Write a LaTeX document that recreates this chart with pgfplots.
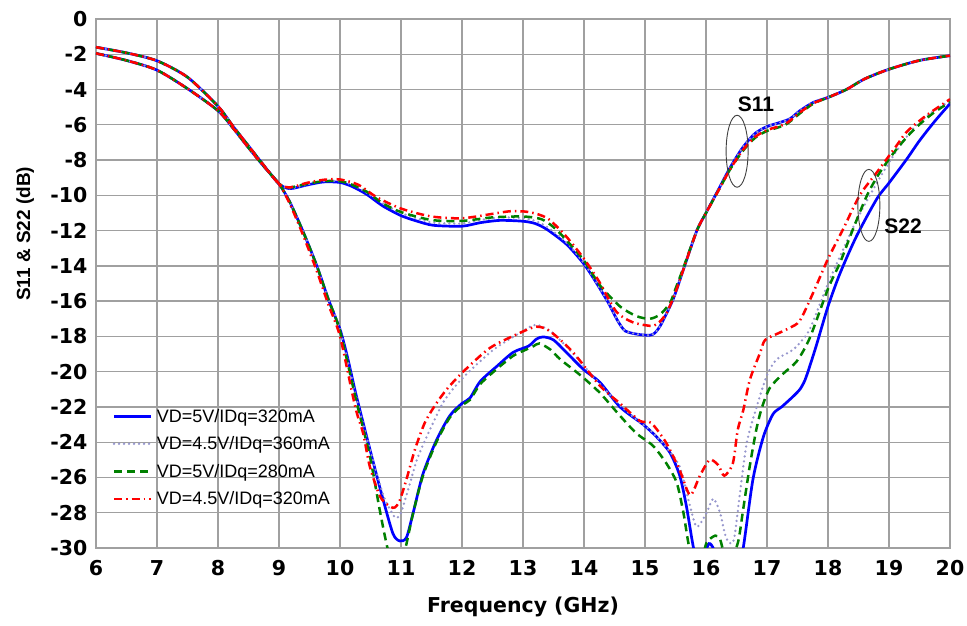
\documentclass[border=0pt]{standalone}
\usepackage{fontspec}
\setmainfont{Liberation Sans}
\newfontfamily\tickfont{DejaVu Sans}
\usepackage{pgfplots}
\pgfplotsset{compat=1.18}
\definecolor{cblue}{RGB}{0,0,255}
\definecolor{cpurp}{RGB}{150,150,205}
\definecolor{cgreen}{RGB}{0,128,0}
\definecolor{cred}{RGB}{255,0,0}
\definecolor{cgrid}{RGB}{160,160,160}
\begin{document}
\begin{tikzpicture}
\path[use as bounding box] (-96pt,-78pt) rectangle (871pt,548pt);
\begin{axis}[
  at={(0,0)}, anchor=south west,
  scale only axis, width=854pt, height=529pt,
  xmin=6, xmax=20, ymin=-30, ymax=0,
  xtick={6,7,...,20}, ytick={-30,-28,...,0},
  grid=major, grid style={line width=1.3pt, color=cgrid},
  axis line style={line width=1.3pt, color=cgrid},
  major tick length=0pt,
  /pgf/number format/assume math mode=true,
  tick label style={font=\tickfont\fontsize{20.5}{22}\selectfont\bfseries},
  xticklabel style={yshift=-9pt},
  yticklabel style={xshift=-5pt},
  xlabel={Frequency (GHz)}, ylabel={S11 \& S22 (dB)},
  xlabel style={font=\tickfont\fontsize{20.5}{22}\selectfont\bfseries, at={(axis description cs:0.5,-0.1115)}, anchor=center},
  ylabel style={font=\fontsize{19}{20}\selectfont\bfseries, at={(axis description cs:-0.083,0.594)}, anchor=center},
  legend style={at={(axis cs:6.27,-21.85)}, anchor=north west, draw=none, fill=none,
    font=\fontsize{18}{20}\selectfont, inner sep=0pt, row sep=4pt,
    nodes={inner sep=4.5pt}},
  legend cell align=left,
  legend image code/.code={\draw[#1] plot coordinates {(0pt,0pt) (18pt,0pt) (37pt,0pt)};},
  every axis plot/.append style={smooth, tension=0.45},
]
% ---------- VD=5V/IDq=320mA (blue solid)
\addplot[cblue, line width=2.7pt] coordinates {
(6,-1.6)(6.5,-1.92)(7,-2.37)(7.5,-3.3)(8,-4.95)(8.25,-6.1)(8.5,-7.2)(8.75,-8.3)(9,-9.35)(9.18,-9.62)(9.45,-9.42)(9.73,-9.24)(10,-9.27)(10.2,-9.5)(10.44,-9.95)(10.7,-10.6)(11,-11.15)(11.25,-11.45)(11.53,-11.7)(12,-11.75)(12.3,-11.55)(12.62,-11.42)(13,-11.47)(13.2,-11.6)(13.4,-11.95)(13.72,-12.8)(14,-13.9)(14.2,-14.95)(14.4,-16.1)(14.55,-17.1)(14.68,-17.7)(14.92,-17.9)(15.12,-17.9)(15.25,-17.4)(15.46,-15.9)(15.62,-14.3)(15.85,-12.0)(16,-11.0)(16.2,-9.7)(16.4,-8.4)(16.6,-7.3)(16.8,-6.5)(17,-6.1)(17.21,-5.87)(17.38,-5.65)(17.54,-5.2)(17.76,-4.73)(18,-4.45)(18.3,-4.0)(18.6,-3.4)(19,-2.85)(19.5,-2.35)(20,-2.08)};
\addlegendentry{VD=5V/IDq=320mA}
\addplot[cblue, line width=2.7pt, forget plot] coordinates {
(6,-1.95)(6.5,-2.35)(7,-2.9)(7.5,-3.95)(8,-5.2)(8.25,-6.2)(8.5,-7.3)(8.75,-8.35)(9,-9.35)(9.18,-10.4)(9.4,-12.1)(9.62,-14.0)(9.81,-15.9)(10,-17.6)(10.11,-19.0)(10.19,-20.2)(10.27,-21.4)(10.49,-24.4)(10.71,-27.3)(10.87,-29.2)(10.98,-29.6)(11.09,-29.4)(11.2,-28.0)(11.36,-25.8)(11.58,-23.9)(11.8,-22.5)(12,-21.8)(12.13,-21.5)(12.3,-20.55)(12.57,-19.7)(12.84,-18.9)(13.09,-18.55)(13.22,-18.15)(13.33,-18.03)(13.5,-18.2)(13.72,-18.94)(14,-19.9)(14.26,-20.6)(14.59,-22.0)(14.97,-23.0)(15.19,-23.7)(15.41,-24.6)(15.57,-25.9)(15.68,-27.65)(15.79,-29.9)(15.88,-31)(15.97,-30.4)(16.05,-29.75)(16.13,-30.1)(16.25,-31.5)(16.5,-31.5)(16.61,-30.0)(16.77,-26.1)(16.94,-23.7)(17.1,-22.4)(17.24,-22.0)(17.43,-21.4)(17.54,-21.0)(17.62,-20.5)(17.7,-19.7)(17.81,-18.5)(18,-16.3)(18.2,-14.4)(18.47,-12.3)(18.8,-10.2)(19,-9.3)(19.29,-7.95)(19.5,-6.9)(19.75,-5.8)(20,-4.8)};
% ---------- VD=4.5V/IDq=360mA (purple dotted)
\addplot[cpurp, line width=2.6pt, line cap=round, dash pattern=on 0pt off 5pt] coordinates {
(6,-1.6)(6.5,-1.92)(7,-2.37)(7.5,-3.3)(8,-4.95)(8.25,-6.1)(8.5,-7.2)(8.75,-8.3)(9,-9.35)(9.18,-9.6)(9.45,-9.4)(9.73,-9.2)(10,-9.2)(10.2,-9.4)(10.44,-9.85)(10.7,-10.45)(11,-11.0)(11.25,-11.3)(11.53,-11.55)(12,-11.6)(12.3,-11.4)(12.62,-11.25)(13,-11.3)(13.2,-11.45)(13.4,-11.8)(13.72,-12.7)(14,-13.85)(14.2,-14.95)(14.4,-16.1)(14.55,-17.1)(14.68,-17.7)(14.92,-17.9)(15.12,-17.9)(15.25,-17.4)(15.46,-15.9)(15.62,-14.3)(15.85,-12.0)(16,-11.0)(16.2,-9.7)(16.4,-8.4)(16.6,-7.3)(16.8,-6.5)(17,-6.1)(17.21,-5.87)(17.38,-5.65)(17.54,-5.2)(17.76,-4.73)(18,-4.45)(18.3,-4.0)(18.6,-3.4)(19,-2.85)(19.5,-2.35)(20,-2.08)};
\addlegendentry{VD=4.5V/IDq=360mA}
\addplot[cpurp, line width=2.6pt, line cap=round, dash pattern=on 0pt off 5pt, forget plot] coordinates {
(6,-1.95)(6.5,-2.35)(7,-2.9)(7.5,-3.95)(8,-5.2)(8.25,-6.2)(8.5,-7.3)(8.75,-8.35)(9,-9.35)(9.18,-10.4)(9.4,-12.1)(9.62,-14.0)(9.81,-15.9)(10,-17.6)(10.27,-21.5)(10.49,-24.4)(10.71,-27.0)(10.85,-28.0)(10.92,-28.3)(11.0,-28.0)(11.15,-26.3)(11.26,-25.0)(11.42,-23.7)(11.7,-21.7)(12,-20.4)(12.5,-18.8)(12.95,-17.8)(13.2,-17.35)(13.45,-17.7)(13.8,-18.9)(14.26,-20.7)(14.59,-21.9)(14.92,-22.9)(15.08,-23.3)(15.35,-24.3)(15.57,-25.4)(15.74,-27.65)(15.85,-28.8)(16.01,-28.0)(16.12,-27.2)(16.23,-28.0)(16.31,-29.2)(16.38,-29.7)(16.46,-29.5)(16.56,-26.8)(16.67,-24.0)(16.83,-22.0)(17.0,-20.2)(17.16,-19.3)(17.43,-18.75)(17.65,-17.9)(17.75,-17.2)(18,-15.0)(18.2,-13.45)(18.47,-11.4)(18.8,-9.3)(19.1,-7.6)(19.4,-6.2)(19.7,-5.3)(20,-4.65)};
% ---------- VD=5V/IDq=280mA (green dashed)
\addplot[cgreen, line width=2.5pt, dash pattern=on 8pt off 5pt] coordinates {
(6,-1.6)(6.5,-1.92)(7,-2.37)(7.5,-3.3)(8,-4.95)(8.25,-6.1)(8.5,-7.2)(8.75,-8.3)(9,-9.35)(9.18,-9.55)(9.45,-9.35)(9.73,-9.2)(10,-9.2)(10.2,-9.4)(10.44,-9.8)(10.7,-10.45)(11,-10.95)(11.5,-11.4)(12,-11.45)(12.5,-11.25)(13,-11.2)(13.3,-11.35)(13.5,-11.8)(13.7,-12.5)(14,-13.7)(14.26,-15.1)(14.59,-16.3)(14.86,-16.85)(15.08,-17.0)(15.25,-16.75)(15.41,-16.1)(15.5,-15.3)(15.62,-14.2)(15.85,-12.0)(16,-11.0)(16.2,-9.75)(16.4,-8.5)(16.6,-7.5)(16.8,-6.75)(17,-6.35)(17.3,-6.0)(17.54,-5.35)(17.76,-4.8)(18,-4.45)(18.3,-4.0)(18.6,-3.4)(19,-2.85)(19.5,-2.35)(20,-2.08)};
\addlegendentry{VD=5V/IDq=280mA}
\addplot[cgreen, line width=2.5pt, dash pattern=on 8pt off 5pt, forget plot] coordinates {
(6,-1.95)(6.5,-2.35)(7,-2.9)(7.5,-3.95)(8,-5.2)(8.25,-6.2)(8.5,-7.3)(8.75,-8.35)(9,-9.35)(9.18,-10.4)(9.4,-12.1)(9.62,-14.0)(9.81,-15.9)(10,-17.7)(10.27,-21.7)(10.49,-24.8)(10.66,-28.0)(10.8,-30.3)(10.93,-31.2)(11.03,-30.6)(11.1,-29.6)(11.2,-28.0)(11.36,-25.9)(11.58,-24.0)(11.8,-22.6)(12,-21.9)(12.13,-21.6)(12.3,-20.7)(12.57,-19.85)(12.84,-19.1)(13.05,-18.75)(13.17,-18.56)(13.27,-18.4)(13.45,-18.75)(13.61,-19.3)(13.94,-20.2)(14.26,-21.2)(14.59,-22.5)(14.86,-23.5)(15.13,-24.2)(15.35,-25.2)(15.52,-26.3)(15.63,-28.0)(15.71,-29.7)(15.8,-31)(15.92,-30.8)(16.01,-29.7)(16.15,-29.3)(16.23,-29.5)(16.32,-30.6)(16.42,-30.6)(16.53,-29.6)(16.61,-27.8)(16.72,-25.3)(16.83,-23.2)(16.92,-22.0)(17.05,-20.9)(17.27,-20.1)(17.49,-19.4)(17.7,-18.1)(18,-15.3)(18.2,-13.8)(18.4,-12.0)(18.64,-10.0)(18.85,-8.7)(19.12,-7.4)(19.4,-6.3)(19.7,-5.4)(20,-4.7)};
% ---------- VD=4.5V/IDq=320mA (red dash-dot)
\addplot[cred, line width=2.5pt, dash pattern=on 8pt off 4pt on 1.5pt off 4pt] coordinates {
(6,-1.6)(6.5,-1.92)(7,-2.37)(7.5,-3.3)(8,-4.95)(8.25,-6.1)(8.5,-7.2)(8.75,-8.3)(9,-9.35)(9.18,-9.55)(9.45,-9.3)(9.73,-9.12)(10,-9.1)(10.3,-9.4)(10.6,-10.1)(11,-10.75)(11.5,-11.2)(12,-11.3)(12.5,-11.05)(12.8,-10.9)(13.1,-10.95)(13.4,-11.3)(13.7,-12.3)(14,-13.6)(14.25,-14.9)(14.53,-16.6)(14.8,-17.2)(15.08,-17.4)(15.2,-17.3)(15.35,-16.7)(15.5,-15.5)(15.62,-14.3)(15.85,-12.0)(16,-11.0)(16.2,-9.75)(16.4,-8.5)(16.6,-7.45)(16.8,-6.7)(17,-6.3)(17.3,-5.95)(17.54,-5.3)(17.76,-4.78)(18,-4.45)(18.3,-4.0)(18.6,-3.4)(19,-2.85)(19.5,-2.35)(20,-2.08)};
\addlegendentry{VD=4.5V/IDq=320mA}
\addplot[cred, line width=2.5pt, dash pattern=on 8pt off 4pt on 1.5pt off 4pt, forget plot] coordinates {
(6,-1.95)(6.5,-2.35)(7,-2.9)(7.5,-3.95)(8,-5.2)(8.25,-6.2)(8.5,-7.3)(8.75,-8.35)(9,-9.35)(9.18,-10.5)(9.4,-12.3)(9.62,-14.3)(9.81,-16.2)(10,-18.0)(10.25,-22.0)(10.38,-23.5)(10.49,-25.4)(10.66,-27.1)(10.82,-27.65)(10.9,-27.7)(10.98,-27.3)(11.09,-26.1)(11.23,-24.4)(11.39,-22.9)(11.56,-21.9)(11.75,-21.0)(12.02,-20.0)(12.46,-18.65)(12.95,-17.8)(13.22,-17.45)(13.44,-17.7)(13.82,-18.9)(14.26,-20.8)(14.59,-21.8)(14.92,-22.8)(15.1,-22.9)(15.35,-24.05)(15.57,-25.6)(15.74,-27.0)(15.9,-25.9)(16.06,-25.0)(16.2,-25.3)(16.3,-25.9)(16.44,-25.2)(16.52,-23.3)(16.61,-22.2)(16.72,-20.45)(16.89,-18.9)(16.97,-18.2)(17.2,-17.8)(17.38,-17.5)(17.54,-17.1)(17.76,-15.5)(18,-13.6)(18.25,-11.9)(18.52,-10.0)(18.8,-8.7)(19.12,-7.2)(19.29,-6.4)(19.6,-5.5)(20,-4.55)};
% ---------- annotations
\draw[black!75, line width=0.9pt] (axis cs:16.51,-7.5) ellipse [x radius=11pt, y radius=36pt];
\draw[black!75, line width=0.9pt] (axis cs:18.67,-10.57) ellipse [x radius=11pt, y radius=36pt];
\node[font=\fontsize{21}{22}\selectfont\bfseries] at (axis cs:16.82,-4.86) {S11};
\node[font=\fontsize{21}{22}\selectfont\bfseries] at (axis cs:19.23,-11.76) {S22};
\end{axis}
\end{tikzpicture}
\end{document}
